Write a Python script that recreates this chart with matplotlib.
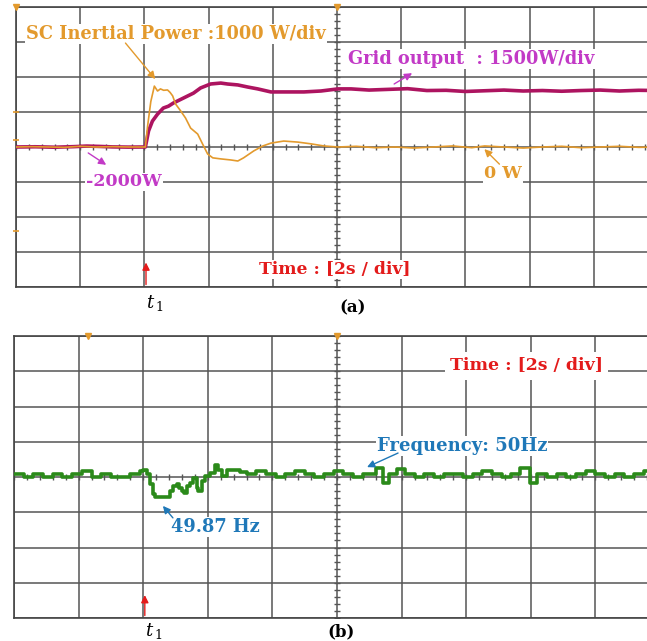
import numpy as np
import matplotlib
matplotlib.use('Agg')
import matplotlib.pyplot as plt

plt.rcParams['mathtext.fontset'] = 'dejavuserif'

# ---- data (read off the scope captures) ----
# (a) SC inertial power [W], 1000 W/div, 0 W at centre line
sc_t = [0, 0.5, 1.0, 1.5, 2.0, 2.5, 3.0, 3.5, 4.03, 4.1, 4.2, 4.31, 4.41, 4.5, 4.6,
        4.72, 4.8, 4.88, 4.97, 5.13, 5.28, 5.44, 5.66, 5.81, 5.97, 6.13, 6.38, 6.69,
        6.91, 7.09, 7.41, 7.69, 7.94, 8.34, 8.78, 9.19, 9.59, 10.03, 10.6, 11.2, 11.8,
        12.4, 13.0, 13.6, 14.2, 14.6, 15.2, 15.8, 16.4, 17.0, 17.6, 18.2, 18.8, 19.4, 20.0]
sc_w = [0, 10, 0, -10, 20, 0, 10, 0, 0, 600, 1300, 1740, 1600, 1660, 1620,
        1630, 1560, 1460, 1230, 1030, 830, 540, 370, 90, -200, -310, -340, -370,
        -400, -310, -110, 30, 110, 170, 140, 90, 30, 0, 20, -20, 0,
        -30, 0, 30, -20, 30, 0, -30, 0, 20, -20, 0, 20, -10, 0]

# (a) grid output [W], 1500 W/div, -2000 W at centre line
grid_t = [0, 0.6, 1.2, 1.8, 2.2, 2.6, 3.0, 3.5, 4.03, 4.13, 4.25, 4.41, 4.59, 4.75,
          4.91, 5.22, 5.53, 5.75, 6.06, 6.38, 6.59, 6.91, 7.22, 7.53, 7.94, 8.34,
          8.97, 9.5, 10.03, 10.44, 11.0, 11.6, 12.2, 12.8, 13.4, 14.0, 14.6, 15.2,
          15.8, 16.4, 17.0, 17.6, 18.2, 18.8, 19.4, 20.0]
grid_w = [-2000, -1990, -2010, -1985, -1960, -1975, -1995, -2005, -2000, -1310, -890, -590, -330, -250,
          -110, 100, 310, 530, 700, 740, 700, 660, 570, 490, 360, 360,
          360, 400, 490, 490, 440, 470, 500, 420, 430, 380, 410, 440,
          400, 420, 390, 420, 440, 400, 430, 420]

# (b) frequency [Hz], 0.2 Hz/div
freq_t = [0, 0.3, 0.6, 0.9, 1.2, 1.5, 1.8, 2.1, 2.4, 2.7, 3.0, 3.3, 3.6, 3.9,
          3.99, 4.12, 4.21, 4.30, 4.37, 4.77, 4.83, 4.92, 5.05, 5.11, 5.20, 5.26,
          5.36, 5.45, 5.54, 5.67, 5.70, 5.82, 5.91, 6.07, 6.22, 6.32, 6.44, 6.59,
          6.78, 7.0, 7.21, 7.5, 7.8, 8.1, 8.4, 8.7, 9.0, 9.3, 9.6, 9.9, 10.2, 10.5,
          10.8, 11.2, 11.42, 11.6, 11.86, 12.1, 12.4, 12.7, 13.0, 13.3, 13.6, 13.9,
          14.2, 14.5, 14.8, 15.1, 15.4, 15.67, 15.97, 16.2, 16.5, 16.8, 17.1, 17.4,
          17.7, 18.0, 18.3, 18.6, 18.9, 19.2, 19.5, 19.8, 20.0]
freq_hz = [50.0, 49.985, 50.0, 49.985, 50.0, 49.985, 50.0, 50.015, 49.985, 50.0, 49.985, 49.985, 50.0, 50.015,
           50.02, 50.0, 49.946, 49.889, 49.87, 49.87, 49.906, 49.934, 49.946, 49.923, 49.906, 49.894,
           49.934, 49.951, 49.98, 49.923, 49.906, 49.963, 49.991, 50.003, 50.049, 50.02, 49.99, 50.02,
           50.02, 50.01, 50.0, 50.015, 50.0, 49.985, 50.0, 50.015, 50.0, 49.985, 50.0, 50.015, 50.0, 49.985,
           50.0, 50.035, 49.95, 50.0, 50.03, 50.0, 49.985, 50.0, 49.985, 50.0, 50.0, 49.985,
           50.0, 50.015, 50.0, 49.985, 50.0, 50.035, 49.95, 50.0, 49.985, 50.0, 49.985, 50.0,
           50.015, 50.0, 49.985, 50.0, 49.985, 50.0, 50.015, 50.0, 50.0]

t1 = 4.05
sc_scale, grid_scale, grid_offset = 1000.0, 1500.0, -2000.0
f_scale, f_centre = 0.2, 49.983

GRIDC = '#555555'
ORANGE = '#e39a2d'
MAGENTA = '#ad1460'
PINK = '#c23ac6'
GREEN = '#2b8a1a'
BLUE = '#1f78b8'
RED = '#e31b1b'
FONT = 'DejaVu Serif'


def scope_axes(ax):
    ax.set_xlim(0, 20)
    ax.set_ylim(-4, 4)
    ax.set_xticks(np.arange(0, 21, 2))
    ax.set_yticks(np.arange(-4, 5, 1))
    ax.tick_params(length=0, labelbottom=False, labelleft=False)
    ax.grid(True, color=GRIDC, lw=1.1)
    for s in ax.spines.values():
        s.set_color('#444444')
        s.set_linewidth(1.2)
    # small division marks on the centre lines
    ax.plot(np.full(41, 10.0), np.arange(-4, 4.01, 0.2), ls='none', marker='_',
            ms=5, mew=1, color=GRIDC, zorder=2)
    ax.plot(np.arange(0, 20.01, 0.4), np.zeros(51), ls='none', marker='|',
            ms=4, mew=1, color=GRIDC, zorder=2)


def label(ax, x, y, s, color, size=12.5):
    ax.text(x, y, s, color=color, fontsize=size, fontweight='bold', family=FONT,
            ha='left', va='center', zorder=5,
            bbox=dict(boxstyle='square,pad=0.05', fc='white', ec='none'))


def arrow(ax, xy_from, xy_to, color):
    ax.annotate('', xy=xy_to, xytext=xy_from, zorder=6,
                arrowprops=dict(arrowstyle='-|>', color=color, lw=1.0,
                                mutation_scale=11, shrinkA=0, shrinkB=0))


fig = plt.figure(figsize=(6.47, 6.41), dpi=100)
fig.patch.set_facecolor('white')

# ---- (a) ----
ax1 = fig.add_axes([16 / 647, 354 / 641, 642 / 647, 280 / 641])
scope_axes(ax1)
ax1.plot(grid_t, (np.array(grid_w) - grid_offset) / grid_scale, color=MAGENTA, lw=2.6, zorder=3)
ax1.plot(sc_t, np.array(sc_w) / sc_scale, color=ORANGE, lw=1.2, zorder=4)

label(ax1, 0.31, 3.23, 'SC Inertial Power :1000 W/div', ORANGE, 12.8)
label(ax1, 10.34, 2.51, 'Grid output  : 1500W/div', PINK, 12.8)
label(ax1, 2.19, -1.0, '-2000W', PINK)
label(ax1, 14.59, -0.77, '0 W', ORANGE)
label(ax1, 7.56, -3.51, 'Time : [2s / div]', RED, 12.3)
arrow(ax1, (3.41, 2.97), (4.34, 1.94), ORANGE)
arrow(ax1, (11.78, 1.8), (12.34, 2.11), PINK)
arrow(ax1, (2.25, -0.17), (2.81, -0.51), PINK)
arrow(ax1, (15.06, -0.49), (14.59, -0.06), ORANGE)
arrow(ax1, (t1, -3.93), (t1, -3.3), RED)
ax1.text(t1, -4.47, r'$t_{\,1}$', fontsize=13, ha='left', va='center', clip_on=False)
ax1.text(10.06, -4.6, '(a)', fontsize=12, fontweight='bold', family=FONT,
         ha='left', va='center', clip_on=False)
ax1.plot([0, 10], [4, 4], ls='none', marker='v', ms=5, color=ORANGE, clip_on=False, zorder=6)
ax1.plot([0, 0, 0], [1.0, 0.2, -2.4], ls='none', marker='_', ms=4, mew=1.2,
         color=ORANGE, clip_on=False, zorder=6)

# ---- (b) ----
ax2 = fig.add_axes([14 / 647, 23 / 641, 646 / 647, 282 / 641])
scope_axes(ax2)
ax2.plot(freq_t, (np.array(freq_hz) - f_centre) / f_scale, color=GREEN, lw=2.6,
         drawstyle='steps-post', zorder=3)
label(ax2, 11.24, 0.88, 'Frequency: 50Hz', BLUE, 13)
label(ax2, 4.86, -1.42, '49.87 Hz', BLUE, 12.8)
ax2.text(13.5, 3.15, 'Time : [2s / div]', color=RED, fontsize=12.5, fontweight='bold',
         family=FONT, ha='left', va='center', zorder=5,
         bbox=dict(boxstyle='square,pad=0.3', fc='white', ec='none'))
arrow(ax2, (11.89, 0.68), (10.93, 0.28), BLUE)
arrow(ax2, (4.92, -1.16), (4.61, -0.82), BLUE)
arrow(ax2, (t1, -3.93), (t1, -3.35), RED)
ax2.text(t1, -4.37, r'$t_{\,1}$', fontsize=13, ha='left', va='center', clip_on=False)
ax2.text(9.69, -4.4, '(b)', fontsize=12, fontweight='bold', family=FONT,
         ha='left', va='center', clip_on=False)
ax2.plot([2.3, 10], [4, 4], ls='none', marker='v', ms=5, color=ORANGE, clip_on=False, zorder=6)

fig.savefig('out.png', dpi=100)
